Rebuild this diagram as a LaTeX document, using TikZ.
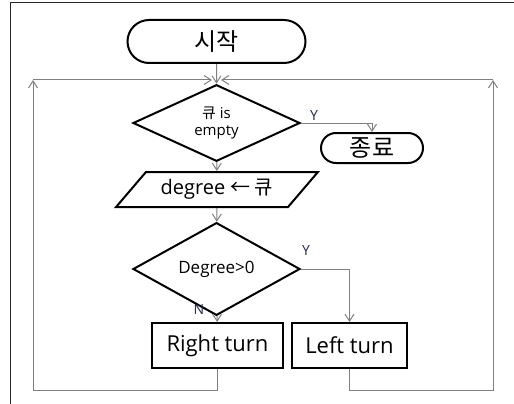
\documentclass[tikz,border=0pt]{standalone}
\usepackage{fontspec}
\setmainfont{Open Sans}
\newfontfamily\kr{Noto Sans CJK KR}
\usetikzlibrary{shapes.geometric}
\usetikzlibrary{shapes.misc}
\usetikzlibrary{arrows.meta}
\definecolor{flowgray}{HTML}{808080}
\definecolor{labelblue}{HTML}{1E2A48}
\tikzset{
terminal node/.style={draw, rounded rectangle, line width=2pt, inner sep=0},
decision node/.style={draw, diamond, line width=2pt, inner sep=0, align=center},
input node/.style={draw, trapezium, trapezium left angle=40.5, trapezium right angle=139.5, trapezium stretches=true, line width=2pt, inner sep=0},
process node/.style={draw, rectangle, line width=2pt, inner sep=0},
%
flow/.style={flowgray, line width=1pt, -{Straight Barb[length=7pt,width=9pt]}},
branch label/.style={labelblue, font=\fontsize{14}{14}\selectfont, inner sep=0},
}
\begin{document}
\begin{tikzpicture}[x=1pt,y=-1pt]
        \useasboundingbox (0,0) rectangle (514,404);
        \draw[black!85, line width=1pt] (10,404) |- (514,3);
        \node[terminal node, minimum width=178pt, minimum height=43pt, font=\kr\fontsize{24}{24}\selectfont] (start) at (216.5,41.5) {시작};
        \node[decision node, minimum width=167pt, minimum height=68pt, font=\fontsize{15}{17}\selectfont] (isempty) at (216.5,123) {{\kr 큐} is\\empty};
        \node[terminal node, minimum width=102pt, minimum height=30pt, font=\kr\fontsize{24}{24}\selectfont] (stop) at (372,148) {종료};
        \node[input node, minimum width=202pt, minimum height=35pt, font=\fontsize{20}{20}\selectfont] (getdeg) at (217,189.5) {degree {\kr ← 큐}};
        \node[decision node, minimum width=167pt, minimum height=64pt, font=\fontsize{17}{17}\selectfont] (ispos) at (216.5,269) {Degree>0};
        \node[process node, minimum width=131pt, minimum height=45pt, font=\fontsize{22}{22}\selectfont] (rturn) at (217.5,345.5) {Right turn};
        \node[process node, minimum width=115pt, minimum height=45pt, font=\fontsize{22}{22}\selectfont] (lturn) at (349.5,345.5) {Left turn};
        \coordinate (lcorner) at (33,80);
        \coordinate (rcorner) at (493,80);
        \coordinate (ljoin) at (212,80);
        \coordinate (rjoin) at (221,80);
        \draw[flow] (start) -- (isempty);
        \draw[flow] (isempty.east) -| (stop.north);
        \draw[flow] (isempty) -- (getdeg);
        \draw[flow] (getdeg) -- (ispos);
        \draw[flow] (ispos.east) -| (lturn.north);
        \draw[flow] (ispos) -- (rturn);
        \draw[flow] (rturn.south) -- ++(0,21) -| (lcorner);
        \draw[flow] (lcorner) -- (ljoin);
        \draw[flow] (lturn.south) -- ++(0,21) -| (rcorner);
        \draw[flow] (rcorner) -- (rjoin);
        \node[branch label] (yes1) at (314,116) {Y};
        \node[branch label] (yes2) at (306,251) {Y};
        \node[branch label] (no2) at (199,310) {N};
\end{tikzpicture}
\end{document}
